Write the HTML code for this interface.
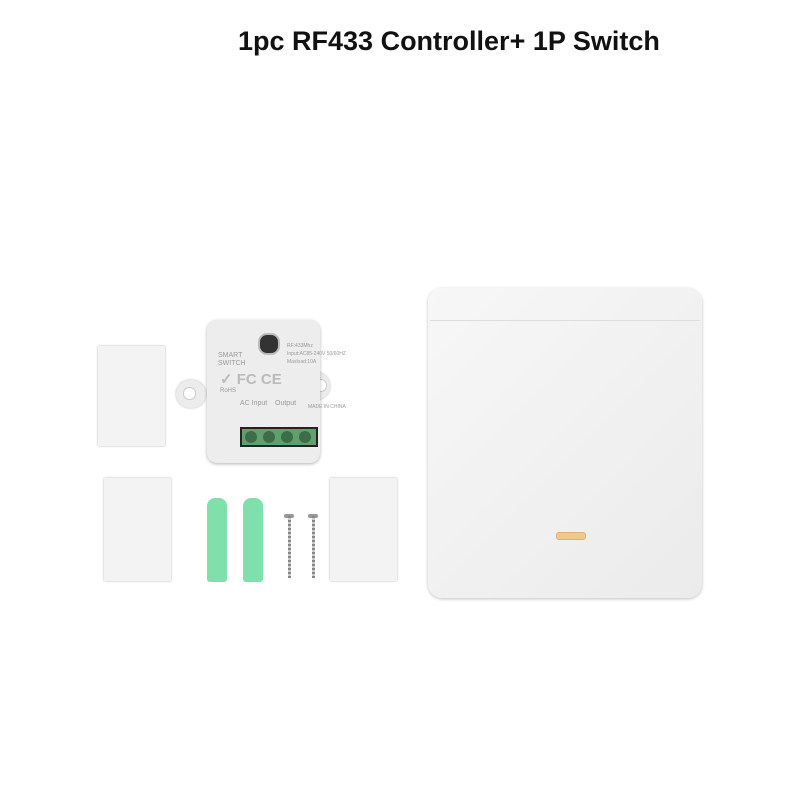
<!DOCTYPE html>
<html><head><style>
body{margin:0;width:800px;height:800px;background:#fff;position:relative;overflow:hidden;font-family:"Liberation Sans",sans-serif}
.a{position:absolute}
</style></head><body>
<div class="a" style="left:238px;top:26px;font-size:27px;font-weight:bold;color:#111;white-space:nowrap">1pc RF433 Controller+ 1P Switch</div>

<!-- large switch -->
<div class="a" style="left:428px;top:288px;width:274px;height:310px;background:linear-gradient(135deg,#f7f7f7,#ebebeb);border-radius:14px;box-shadow:0 1px 3px rgba(0,0,0,.25)"></div>
<div class="a" style="left:430px;top:320px;width:270px;height:1px;background:#ddd"></div>
<div class="a" style="left:556px;top:532px;width:28px;height:6px;border-radius:3px;background:#f0c98a;border:1px solid #d9b27a"></div>

<!-- controller -->
<div class="a" style="left:176px;top:380px;width:30px;height:28px;border-radius:14px;background:#ececec;box-shadow:0 0 2px rgba(0,0,0,.3)"></div>
<div class="a" style="left:183px;top:387px;width:11px;height:11px;border-radius:6px;background:#fff;border:1px solid #ccc"></div>
<div class="a" style="left:300px;top:372px;width:30px;height:28px;border-radius:14px;background:#ececec;box-shadow:0 0 2px rgba(0,0,0,.3)"></div>
<div class="a" style="left:314px;top:379px;width:11px;height:11px;border-radius:6px;background:#fff;border:1px solid #ccc"></div>
<div class="a" style="left:207px;top:320px;width:113px;height:143px;border-radius:10px;background:#ededed;box-shadow:0 1px 3px rgba(0,0,0,.3)"></div>
<div class="a" style="left:258px;top:333px;width:18px;height:18px;border-radius:9px;background:#333;border:2px solid #bbb"></div>
<div class="a" style="left:218px;top:352px;font-size:7px;color:#999;line-height:8px">SMART<br>SWITCH</div>
<div class="a" style="left:287px;top:342px;font-size:5px;color:#999;line-height:8px;white-space:nowrap">RF:433Mhz<br>Input:AC85-240V 50/60HZ<br>Maxload:10A</div>
<div class="a" style="left:220px;top:370px;font-size:15px;color:#bbb;font-weight:bold">✓ FC CE</div>
<div class="a" style="left:220px;top:388px;font-size:6px;color:#999">RoHS</div>
<div class="a" style="left:240px;top:400px;font-size:7px;color:#999">AC Input &nbsp;&nbsp;&nbsp;Output</div>
<div class="a" style="left:308px;top:404px;font-size:5px;color:#999">MADE IN CHINA</div>
<div class="a" style="left:240px;top:427px;width:78px;height:20px;background:#222"></div>
<div class="a" style="left:242px;top:429px;width:74px;height:16px;background:#5fa06d"></div>
<div class="a" style="left:245px;top:431px;width:12px;height:12px;border-radius:6px;background:#3d6d48"></div>
<div class="a" style="left:263px;top:431px;width:12px;height:12px;border-radius:6px;background:#3d6d48"></div>
<div class="a" style="left:281px;top:431px;width:12px;height:12px;border-radius:6px;background:#3d6d48"></div>
<div class="a" style="left:299px;top:431px;width:12px;height:12px;border-radius:6px;background:#3d6d48"></div>

<!-- white pads -->
<div class="a" style="left:98px;top:346px;width:67px;height:100px;background:#f3f3f3;box-shadow:0 0 2px rgba(0,0,0,.3)"></div>
<div class="a" style="left:104px;top:478px;width:67px;height:103px;background:#f3f3f3;box-shadow:0 0 2px rgba(0,0,0,.3)"></div>
<div class="a" style="left:330px;top:478px;width:67px;height:103px;background:#f3f3f3;box-shadow:0 0 2px rgba(0,0,0,.3)"></div>

<!-- anchors -->
<div class="a" style="left:207px;top:498px;width:20px;height:84px;background:#7fe0ac;border-radius:8px 8px 3px 3px"></div>
<div class="a" style="left:243px;top:498px;width:20px;height:84px;background:#7fe0ac;border-radius:8px 8px 3px 3px"></div>
<!-- screws -->
<div class="a" style="left:284px;top:514px;width:10px;height:4px;background:#999;border-radius:2px"></div>
<div class="a" style="left:288px;top:516px;width:3px;height:62px;background:repeating-linear-gradient(#888 0 2px,#ccc 2px 4px)"></div>
<div class="a" style="left:308px;top:514px;width:10px;height:4px;background:#999;border-radius:2px"></div>
<div class="a" style="left:312px;top:516px;width:3px;height:62px;background:repeating-linear-gradient(#888 0 2px,#ccc 2px 4px)"></div>
</body></html>
